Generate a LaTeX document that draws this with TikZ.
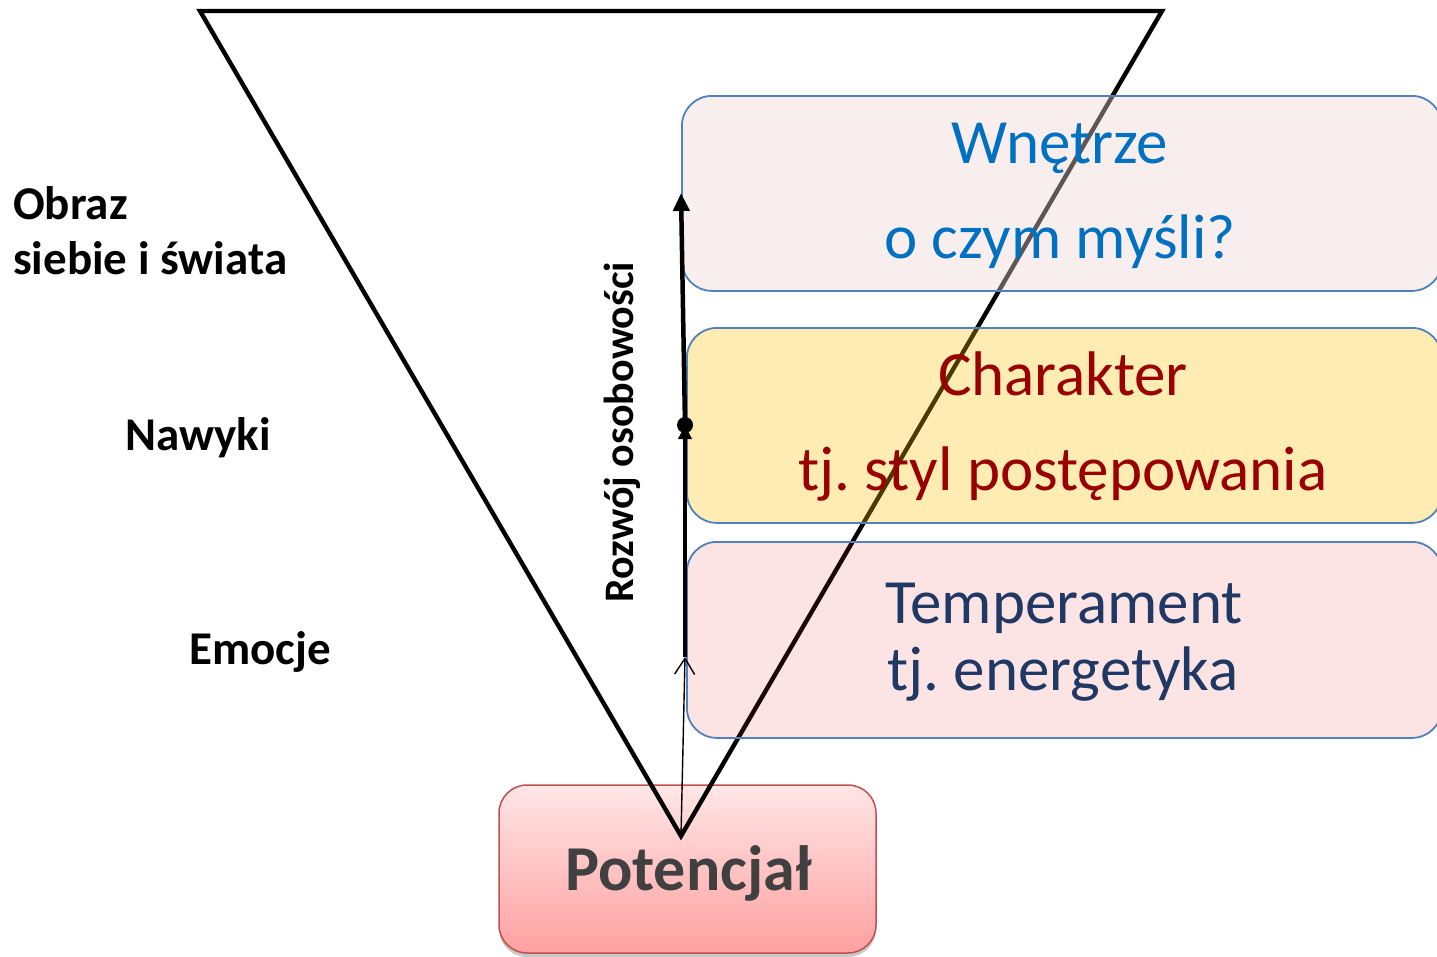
\documentclass[tikz,border=0pt]{standalone}
\usepackage{fontspec}
\setmainfont{Carlito}
\usetikzlibrary{arrows.meta,shadows}
\definecolor{boxline}{RGB}{79,129,189}
\definecolor{fillA}{RGB}{238,213,213}
\definecolor{fillB}{RGB}{255,192,0}
\definecolor{fillC}{RGB}{240,40,40}
\definecolor{txtA}{RGB}{0,112,192}
\definecolor{txtB}{RGB}{153,0,0}
\definecolor{txtC}{RGB}{31,56,100}
\definecolor{potTop}{RGB}{255,230,230}
\definecolor{potBot}{RGB}{255,160,160}
\definecolor{potLine}{RGB}{192,80,77}
\definecolor{potTxt}{RGB}{64,64,64}
\frenchspacing
\begin{document}
\begin{tikzpicture}[x=1pt,y=-1pt,
  layerbox/.style={draw=boxline, line width=1.8pt, rounded corners=30pt, anchor=north west, inner sep=0pt},
  boxtxt/.style={anchor=base, inner sep=0pt, font=\fontsize{63}{63}\selectfont},
  sidelbl/.style={anchor=base west, inner sep=0pt, font=\fontsize{47}{47}\selectfont\bfseries},
  potbox/.style={draw=potLine, line width=1.5pt, rounded corners=28pt, top color=potTop, bottom color=potBot, inner sep=0pt,
    drop shadow={shadow xshift=0pt, shadow yshift=-4pt, opacity=0.35, fill=black!60}},
]
\useasboundingbox (0,0) rectangle (1437,956);

% Potencjal box
\node[potbox, minimum width=377pt, minimum height=168pt] (pot) at (687.5,869) {};
\node[anchor=base, inner sep=0pt, text=potTxt, font=\fontsize{64}{64}\selectfont\bfseries] (pottxt) at (688.5,890) {Potencjał};

% inverted triangle
\coordinate (tl) at (200,11);
\coordinate (tr) at (1162,11);
\coordinate (apex) at (681,836);
\draw[line width=4.4pt, line join=miter] (tl) -- (tr) -- (apex) -- cycle;

% layer boxes
\node[layerbox, fill=fillA, fill opacity=0.4, minimum width=760pt, minimum height=195pt] (bA) at (681,95) {};
\node[layerbox, fill=fillB, fill opacity=0.3, minimum width=755pt, minimum height=195pt] (bB) at (686,327) {};
\node[layerbox, fill=fillC, fill opacity=0.125, minimum width=755pt, minimum height=196pt] (bC) at (686,541) {};

\node[boxtxt, text=txtA] (tA1) at (1060,163) {Wnętrze};
\node[boxtxt, text=txtA] (tA2) at (1060,258) {o czym myśli?};
\node[boxtxt, text=txtB] (tB1) at (1063,395) {Charakter};
\node[boxtxt, text=txtB] (tB2) at (1063,490) {tj. styl postępowania};
\node[boxtxt, text=txtC] (tC1) at (1064,623) {Temperament};
\node[boxtxt, text=txtC] (tC2) at (1063,690) {tj. energetyka};

% side labels
\node[sidelbl] (l1) at (13,219) {Obraz};
\node[sidelbl] (l2) at (13,274) {siebie i świata};
\node[sidelbl] (l3) at (125,450) {Nawyki};
\node[sidelbl] (l4) at (189,664) {Emocje};

% development arrow
\coordinate (p1) at (685,657);
\coordinate (p2) at (685,425);
\coordinate (p3) at (681,193);
\draw[line width=1.4pt, -{Straight Barb[length=16pt,width=20pt]}] (apex) -- (p1);
\draw[line width=3.5pt, -{Triangle[length=14pt,width=13pt]}] (p1) -- (p2);
\draw[line width=4.5pt, -{Triangle[length=18pt,width=16pt]}] (p2) -- (p3);
\node[circle, fill=black, inner sep=0pt, minimum size=16pt] (dot) at (p2) {};
\node[rotate=90, anchor=base, inner sep=0pt, font=\fontsize{42}{42}\selectfont\bfseries] (rozwoj) at (633,432) {Rozwój osobowości};
\end{tikzpicture}
\end{document}
